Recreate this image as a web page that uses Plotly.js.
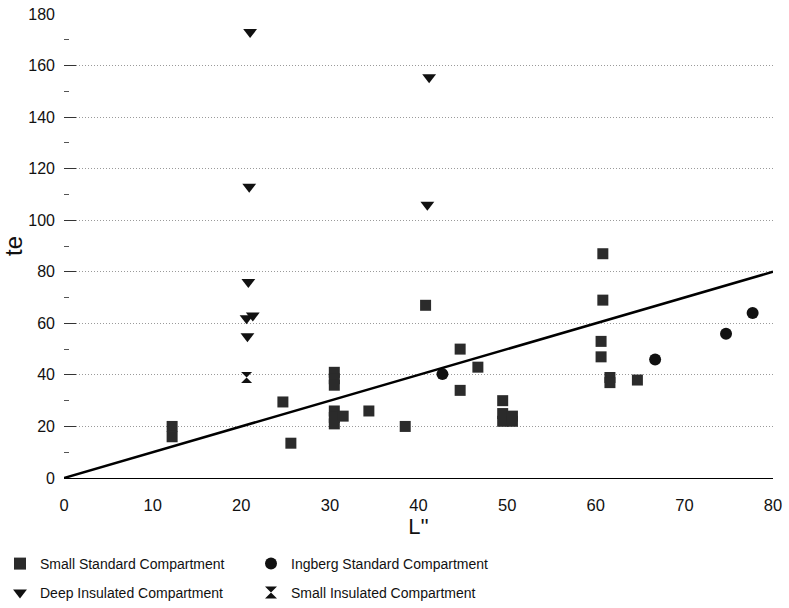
<!DOCTYPE html>
<html>
<head>
<meta charset="utf-8">
<script src="https://cdn.plot.ly/plotly-3.0.1.min.js"></script>
<style>html,body{margin:0;padding:0;background:#fff;}#chart{width:789px;height:608px;}</style>
</head>
<body>
<div id="chart"></div>
<script>
// Small Standard Compartment
const ssL  = [12.2, 12.2, 24.7, 25.6, 30.5, 30.5, 30.5, 30.5, 30.5, 30.5, 31.5, 34.4, 38.5, 40.8, 44.7, 44.7, 46.7, 49.5, 49.5, 49.5, 50.6, 50.6, 60.8, 60.8, 60.6, 60.6, 61.6, 61.6, 64.7];
const ssTe = [20, 16, 29.5, 13.5, 41, 38.5, 36, 26, 23.5, 21, 24, 26, 20, 67, 50, 34, 43, 30, 25, 22, 24, 22, 87, 69, 53, 47, 39, 37, 38];
// Ingberg Standard Compartment
const igL  = [42.7, 66.7, 74.7, 77.7];
const igTe = [40.3, 46, 56, 64];
// Deep Insulated Compartment
const diL  = [21.0, 41.2, 20.9, 41.0, 20.8, 20.6, 21.3, 20.7];
const diTe = [173, 155.5, 113, 106, 76, 62, 63, 55];
// Small Insulated Compartment
const siL  = [20.6];
const siTe = [39];
// Reference line te = L''
const lineL  = [0, 80];
const lineTe = [0, 80];
// Tick labels
const xTicks = [0, 10, 20, 30, 40, 50, 60, 70, 80];
const yTicks = [0, 20, 40, 60, 80, 100, 120, 140, 160, 180];
const yMinor = [10, 30, 50, 70, 90, 110, 130, 150, 170];

const font = "Liberation Sans, Arial, sans-serif";

const traces = [
  {x: ssL, y: ssTe, type: 'scatter', mode: 'markers', name: 'Small Standard Compartment', legend: 'legend',
   marker: {symbol: 'square', size: 11, color: '#2b2b2b'}, cliponaxis: false},
  {x: igL, y: igTe, type: 'scatter', mode: 'markers', name: 'Ingberg Standard Compartment', legend: 'legend',
   marker: {symbol: 'circle', size: 12, color: '#111'}, cliponaxis: false},
  {x: diL, y: diTe, type: 'scatter', mode: 'markers', name: 'Deep Insulated Compartment', legend: 'legend2',
   marker: {symbol: 'triangle-down', size: 12, color: '#111'}, cliponaxis: false},
  {x: siL, y: siTe, type: 'scatter', mode: 'markers', name: 'Small Insulated Compartment', legend: 'legend2',
   marker: {symbol: 'hourglass', size: 11, color: '#111'}, cliponaxis: false},
  {x: lineL, y: lineTe, type: 'scatter', mode: 'lines', showlegend: false,
   line: {color: '#000', width: 2.5}, hoverinfo: 'skip'}
];

const legendCommon = {
  orientation: 'h', xref: 'container', yref: 'container',
  x: -0.002, xanchor: 'left', yanchor: 'middle',
  font: {family: font, size: 14, color: '#111'},
  entrywidth: 206, entrywidthmode: 'pixels',
  traceorder: 'normal', itemsizing: 'constant', bgcolor: 'rgba(0,0,0,0)'
};

const layout = {
  width: 789, height: 608,
  margin: {l: 64, r: 16, t: 14, b: 130},
  paper_bgcolor: '#fff', plot_bgcolor: '#fff',
  font: {family: font, color: '#111', size: 16},
  showlegend: true,
  legend: Object.assign({}, legendCommon, {y: (608 - 564) / 608}),
  legend2: Object.assign({}, legendCommon, {y: (608 - 593) / 608}),
  xaxis: {
    range: [0, 80], tickvals: xTicks,
    showgrid: false, zeroline: false,
    showline: true, linecolor: '#000', linewidth: 1.2,
    ticks: '', ticklabelstandoff: 12,
    tickfont: {family: font, size: 16.5, color: '#111'},
    title: {text: "L''", font: {family: font, size: 22, color: '#111'}, standoff: 2}
  },
  yaxis: {
    range: [0, 180], tickvals: yTicks,
    showgrid: true, gridcolor: '#9a9a9a', griddash: '1px,2px', gridwidth: 1,
    zeroline: false, showline: false,
    ticks: 'inside', ticklen: 12, tickcolor: '#333', tickwidth: 1,
    minor: {tickvals: yMinor, ticks: 'inside', ticklen: 5, tickcolor: '#555', showgrid: false},
    ticklabelstandoff: 8,
    tickfont: {family: font, size: 16, color: '#111'},
    title: {text: 'te', font: {family: font, size: 24, color: '#111'}, standoff: 4}
  }
};

Plotly.newPlot('chart', traces, layout, {displayModeBar: false, staticPlot: true});
</script>
</body>
</html>
